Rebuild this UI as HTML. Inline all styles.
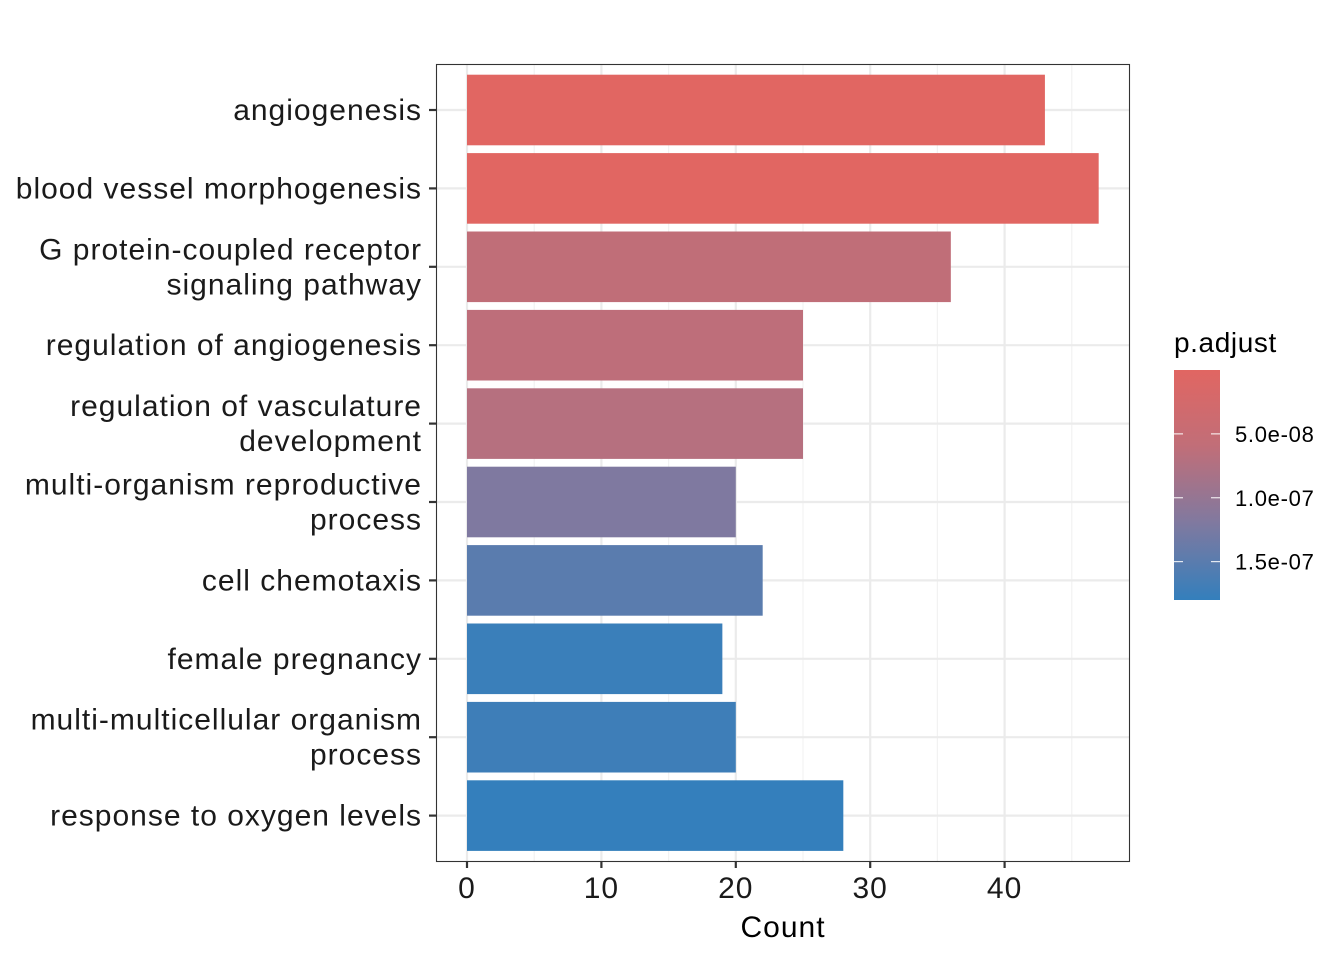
<!DOCTYPE html>
<html><head><meta charset="utf-8"><style>
html,body{margin:0;padding:0;background:#fff;}
svg{display:block;font-family:"Liberation Sans",Arial,sans-serif;}
</style></head><body>
<svg id="chart" width="1344" height="960" viewBox="0 0 1344 960">
<defs>
<linearGradient id="cbar" x1="0" y1="0" x2="0" y2="1">
<stop offset="0" stop-color="#E16662"/>
<stop offset="0.33" stop-color="#C16E78"/>
<stop offset="0.66" stop-color="#81799F"/>
<stop offset="1" stop-color="#347FBC"/>
</linearGradient>
</defs>
<g id="grid"></g>
<g id="bars"></g>
<rect x="436.5" y="64.5" width="693" height="797" fill="none" stroke="#333" stroke-width="1.1"/>
<g id="yaxis"></g>
<g id="xaxis"></g>
<text x="783" y="937" font-size="30" letter-spacing="1" text-anchor="middle" fill="#000">Count</text>
<g>
<text x="1174" y="352" font-size="28" letter-spacing="0.6" fill="#000">p.adjust</text>
<rect x="1174" y="370" width="46" height="230" fill="url(#cbar)"/>
<g id="legticks"></g>
</g>
</svg>
<script>
const categories = [
 ["angiogenesis"],
 ["blood vessel morphogenesis"],
 ["G protein-coupled receptor","signaling pathway"],
 ["regulation of angiogenesis"],
 ["regulation of vasculature","development"],
 ["multi-organism reproductive","process"],
 ["cell chemotaxis"],
 ["female pregnancy"],
 ["multi-multicellular organism","process"],
 ["response to oxygen levels"]
];
const counts = [43, 47, 36, 25, 25, 20, 22, 19, 20, 28];
const padj = [1e-10, 2e-10, 6e-8, 6.2e-8, 7e-8, 1.2e-7, 1.5e-7, 1.75e-7, 1.72e-7, 1.8e-7];
const xTicks = [0, 10, 20, 30, 40];
const xMinor = [5, 15, 25, 35, 45];
const legendTicks = [5e-8, 1e-7, 1.5e-7];
const legendLabels = ["5.0e-08", "1.0e-07", "1.5e-07"];

const NS = "http://www.w3.org/2000/svg";
const x = v => 467 + v * 13.44;
const yc = i => 110 + i * 78.4;
const pMin = 0, pMax = 1.8e-7;
const ly = p => 370 + (p - pMin) / (pMax - pMin) * 230;
const stops = [[0,[225,102,98]],[0.33,[193,110,120]],[0.66,[129,121,159]],[1,[52,127,188]]];
function col(p){
  let t = Math.max(0, Math.min(1, (p - pMin) / (pMax - pMin)));
  for (let k = 0; k < stops.length - 1; k++) {
    const [a, ca] = stops[k], [b, cb] = stops[k+1];
    if (t <= b) { const f = (t - a) / (b - a);
      return "rgb(" + ca.map((c, j) => Math.round(c + (cb[j] - c) * f)).join(",") + ")"; }
  }
}
function mk(tag, attrs, parent){ const e = document.createElementNS(NS, tag);
  for (const k in attrs) e.setAttribute(k, attrs[k]); parent.appendChild(e); return e; }

const grid = document.getElementById("grid");
xMinor.forEach(v => { const l = mk("line", {x1:x(v), x2:x(v), y1:64, y2:861, stroke:"#F2F2F2", "stroke-width":1.2}, grid);
  
   });
xTicks.forEach(v => { const l = mk("line", {x1:x(v), x2:x(v), y1:64, y2:861, stroke:"#EBEBEB", "stroke-width":2.2}, grid);
  
   });
categories.forEach((c, i) => { const l = mk("line", {x1:436, x2:1129, y1:yc(i), y2:yc(i), stroke:"#EBEBEB", "stroke-width":2.2}, grid);
  
   });

const bars = document.getElementById("bars");
counts.forEach((v, i) => {
  const r = mk("rect", {x:x(0), y:yc(i) - 35.3, width:x(v) - x(0), height:70.6, fill:col(padj[i])}, bars);
  
  
});

const ya = document.getElementById("yaxis");
categories.forEach((c, i) => {
  const t = mk("line", {x1:429, x2:436, y1:yc(i), y2:yc(i), stroke:"#333", "stroke-width":2.2}, ya);
  
  
  const n = c.length;
  c.forEach((s, j) => {
    const tx = mk("text", {x:422, y:yc(i) + 10 + (j - (n - 1) / 2) * 35, "font-size":30, "letter-spacing":1, "text-anchor":"end", fill:"#1a1a1a"}, ya);
    tx.textContent = s;
    
    
  });
});

const xa = document.getElementById("xaxis");
xTicks.forEach(v => {
  const t = mk("line", {x1:x(v), x2:x(v), y1:861, y2:868, stroke:"#333", "stroke-width":2.2}, xa);
  
  
  const tx = mk("text", {x:x(v), y:898, "font-size":30, "letter-spacing":1, "text-anchor":"middle", fill:"#1a1a1a"}, xa);
  tx.textContent = v;
  
  
});

const lt = document.getElementById("legticks");
legendTicks.forEach((p, i) => {
  const a = mk("line", {x1:1174, x2:1183, y1:ly(p), y2:ly(p), stroke:"#fff", "stroke-width":1}, lt);
  
  
  const b = mk("line", {x1:1211, x2:1220, y1:ly(p), y2:ly(p), stroke:"#fff", "stroke-width":1}, lt);
  
  
  const tx = mk("text", {x:1235, y:ly(p) + 8, "font-size":22, "letter-spacing":0.7, fill:"#000"}, lt);
  tx.textContent = legendLabels[i];
  
  
});
</script>
</body></html>
